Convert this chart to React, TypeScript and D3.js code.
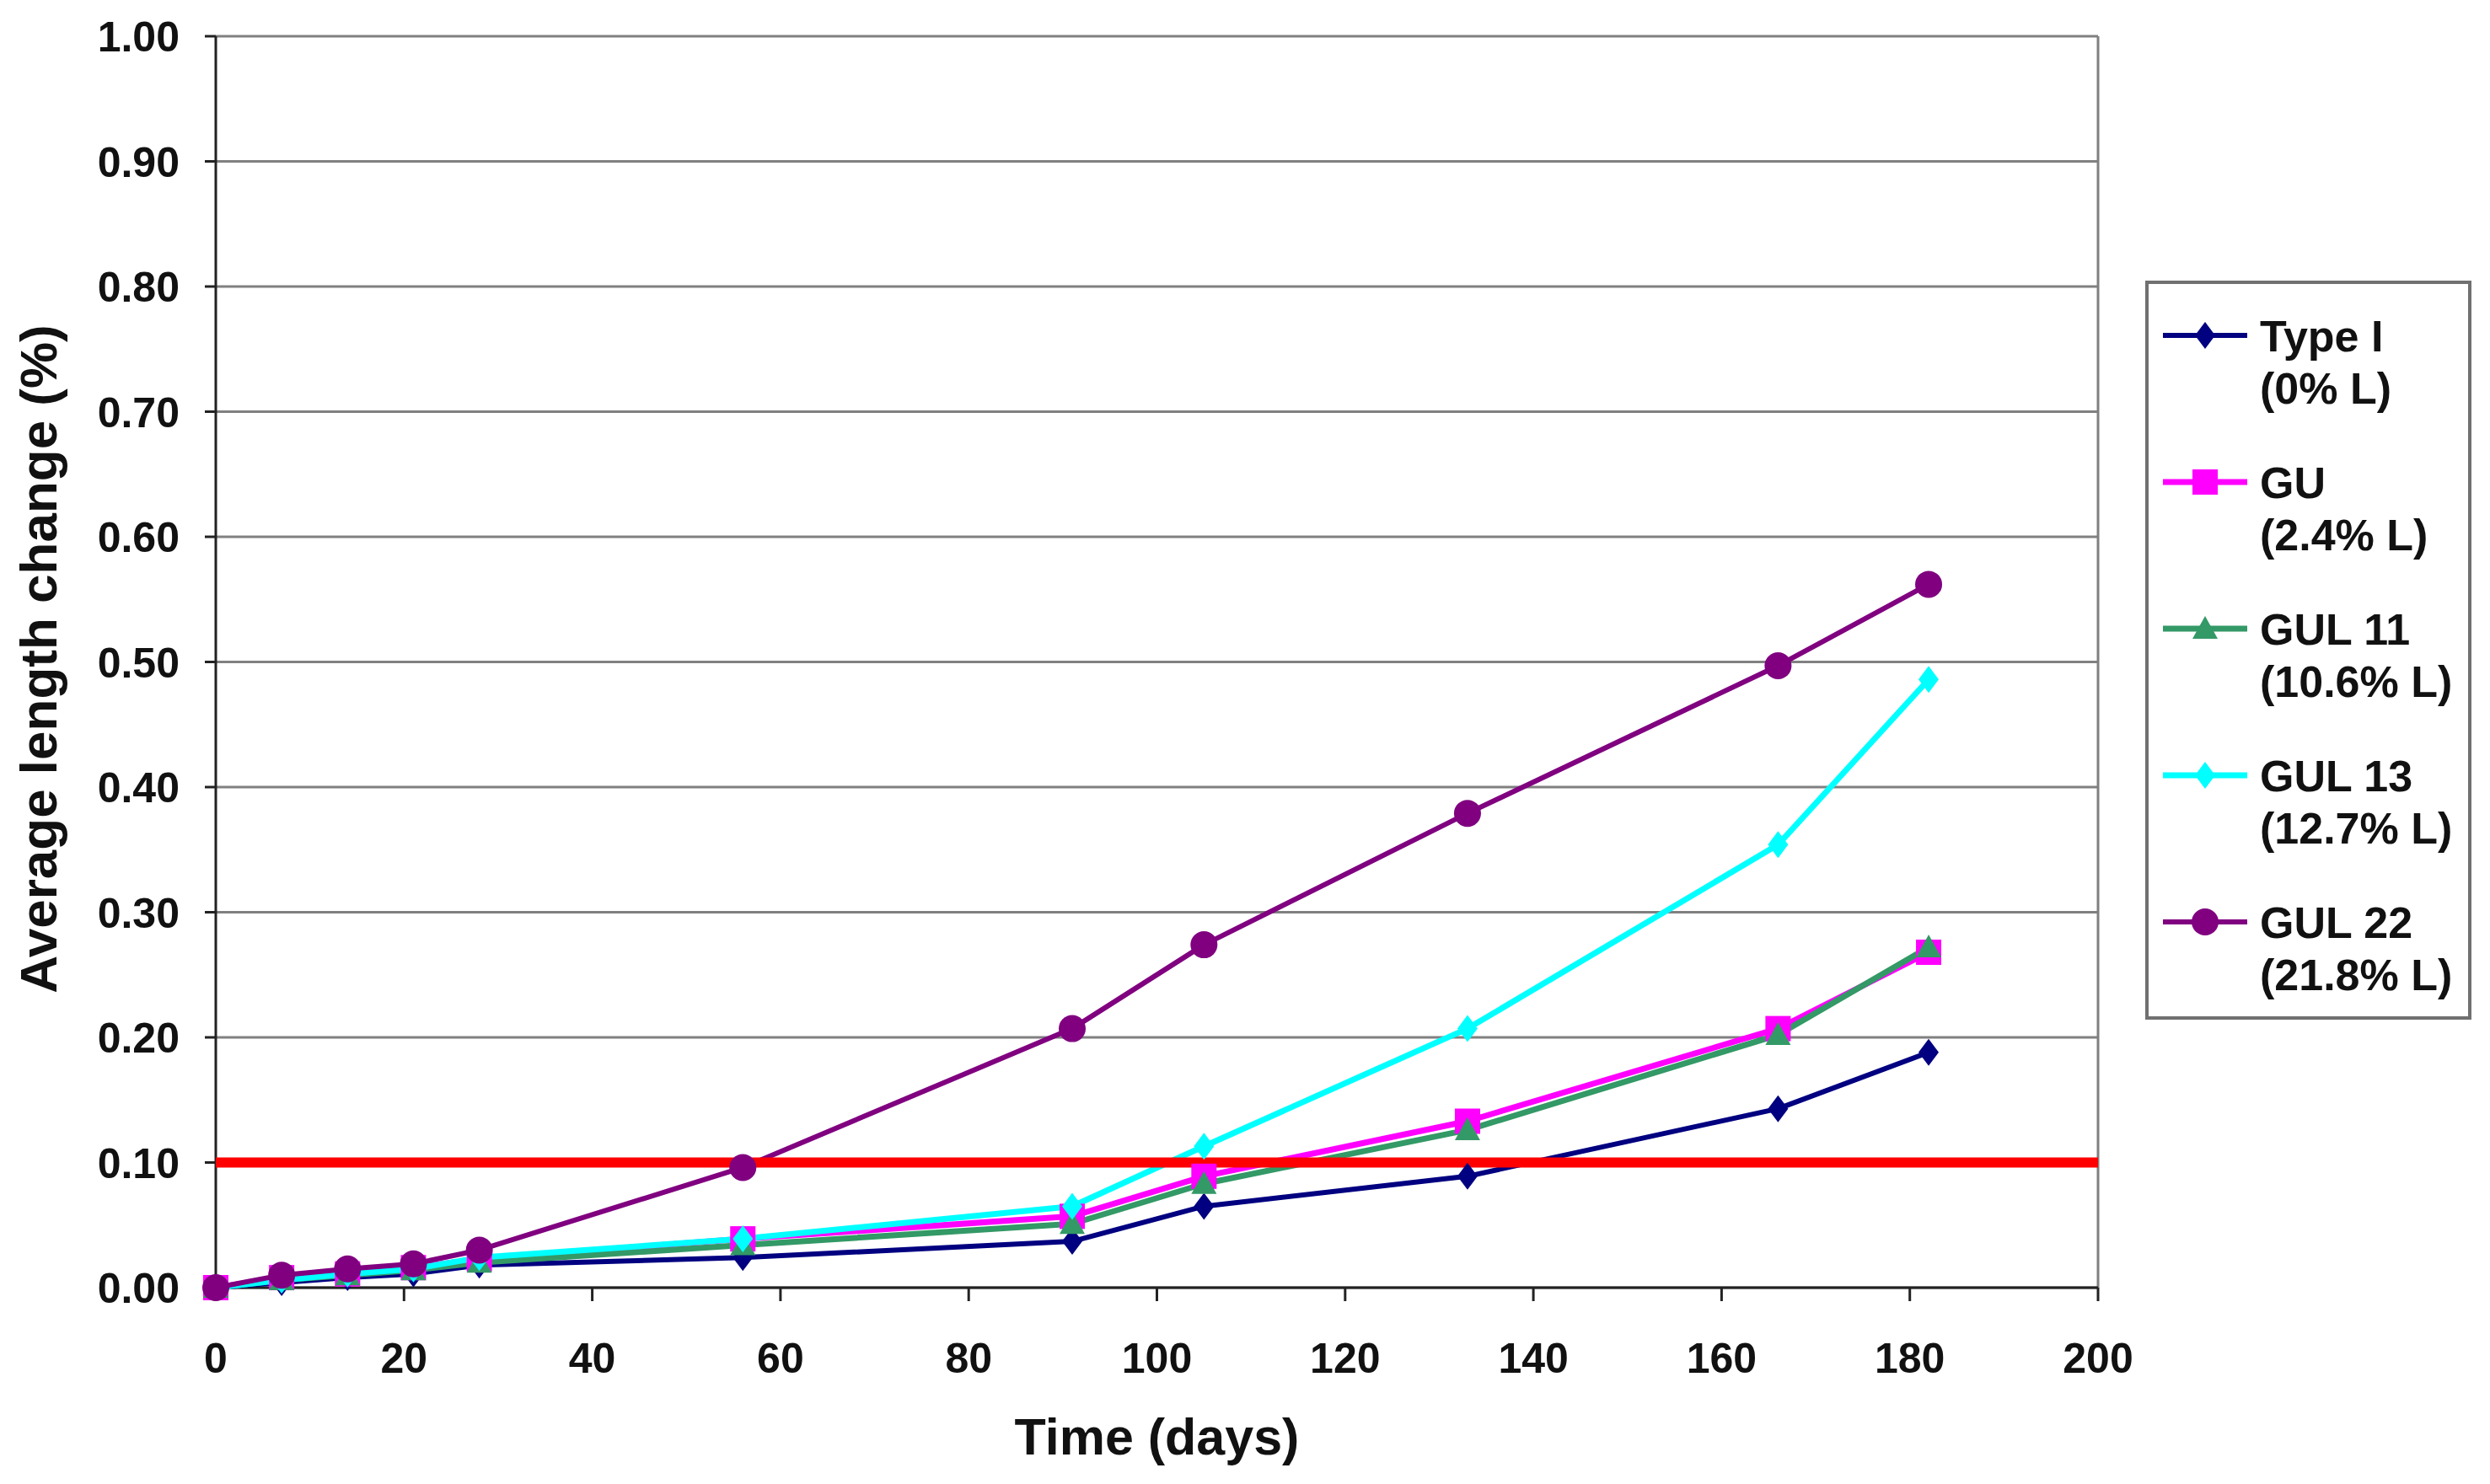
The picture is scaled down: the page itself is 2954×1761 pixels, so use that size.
import React from "react";
import * as d3 from "d3";

const days = [0, 7, 14, 21, 28, 56, 91, 105, 133, 166, 182];
const typeI = [0, 0.004, 0.008, 0.011, 0.018, 0.024, 0.037, 0.065, 0.089, 0.143, 0.188];
const gu = [0, 0.008, 0.011, 0.016, 0.023, 0.039, 0.057, 0.089, 0.133, 0.207, 0.268];
const gul11 = [0, 0.006, 0.010, 0.014, 0.020, 0.034, 0.051, 0.083, 0.126, 0.202, 0.272];
const gul13 = [0, 0.006, 0.011, 0.015, 0.024, 0.039, 0.065, 0.113, 0.207, 0.354, 0.486];
const gul22 = [0, 0.010, 0.015, 0.019, 0.030, 0.096, 0.207, 0.274, 0.379, 0.497, 0.562];
const limitValue = 0.1;
const xTicks = [0, 20, 40, 60, 80, 100, 120, 140, 160, 180, 200];
const yTicks = [0, 0.1, 0.2, 0.3, 0.4, 0.5, 0.6, 0.7, 0.8, 0.9, 1.0];
const seriesNames = ["Type I", "GU", "GUL 11", "GUL 13", "GUL 22"];
const seriesSubs = ["(0% L)", "(2.4% L)", "(10.6% L)", "(12.7% L)", "(21.8% L)"];

type Shape = "diamond" | "square" | "triangle" | "circle";
const series: { values: number[]; color: string; shape: Shape; width: number }[] = [
  { values: typeI, color: "#000080", shape: "diamond", width: 6 },
  { values: gu, color: "#FF00FF", shape: "square", width: 7 },
  { values: gul11, color: "#339966", shape: "triangle", width: 7 },
  { values: gul13, color: "#00FFFF", shape: "diamond", width: 7 },
  { values: gul22, color: "#800080", shape: "circle", width: 6 },
];

const W = 2954, H = 1761;
const L = 256, R = 2489, T = 43, B = 1528;
const FONT = "'Liberation Sans', Arial, Helvetica, sans-serif";

function markerPath(shape: Shape): string {
  switch (shape) {
    case "diamond": return "M0,-16L12,0L0,16L-12,0Z";
    case "square": return "M-15,-15H15V15H-15Z";
    case "triangle": return "M0,-15L15,12H-15Z";
    case "circle": return "M-16,0A16,16 0 1,0 16,0A16,16 0 1,0 -16,0Z";
  }
}

export default function App() {
  const x = d3.scaleLinear().domain([0, 200]).range([L, R]);
  const y = d3.scaleLinear().domain([0, 1]).range([B, T]);
  const line = d3.line<number>().x((_, i) => x(days[i])).y((v) => y(v));

  const legX = 2547, legY = 335, legW = 383, legH = 873;
  const entryY0 = 398, entryStep = 174;

  return (
    <svg width={W} height={H} style={{ position: "absolute", left: 0, top: 0, background: "#fff" }}
      fontFamily={FONT} fontWeight="bold">
      <rect x={0} y={0} width={W} height={H} fill="#fff" />
      {yTicks.map((t) => (
        <line key={"g" + t} x1={L} x2={R} y1={y(t)} y2={y(t)} stroke="#808080" strokeWidth={3} />
      ))}
      <line x1={R} x2={R} y1={T} y2={B} stroke="#808080" strokeWidth={3} />
      <line x1={L} x2={L} y1={T} y2={B} stroke="#222" strokeWidth={3} />
      <line x1={L} x2={R} y1={B} y2={B} stroke="#222" strokeWidth={3} />
      {yTicks.map((t) => (
        <g key={"yt" + t}>
          <line x1={L - 13} x2={L} y1={y(t)} y2={y(t)} stroke="#222" strokeWidth={3} />
          <text x={213} y={y(t)} dy="0.36em" textAnchor="end" fontSize={50} fill="#111">
            {d3.format(".2f")(t)}
          </text>
        </g>
      ))}
      {xTicks.map((t) => (
        <g key={"xt" + t}>
          <line x1={x(t)} x2={x(t)} y1={B} y2={B + 16} stroke="#222" strokeWidth={3} />
          <text x={x(t)} y={1629} textAnchor="middle" fontSize={50} fill="#111">{t}</text>
        </g>
      ))}
      <text x={(L + R) / 2} y={1726} textAnchor="middle" fontSize={61} fill="#111">Time (days)</text>
      <text transform={`translate(67,782) rotate(-90)`} textAnchor="middle" fontSize={62} fill="#111">
        Average length change (%)
      </text>
      {series.map((s, i) => (
        <path key={"l" + i} d={line(s.values) || ""} fill="none" stroke={s.color} strokeWidth={s.width}
          strokeLinejoin="round" />
      ))}
      <line x1={x(0)} x2={x(200)} y1={y(limitValue)} y2={y(limitValue)} stroke="#FF0000" strokeWidth={12} />
      {series.map((s, i) => (
        <g key={"m" + i}>
          {s.values.map((v, j) => (
            <path key={j} d={markerPath(s.shape)} transform={`translate(${x(days[j])},${y(v)})`} fill={s.color} />
          ))}
        </g>
      ))}
      <rect x={legX} y={legY} width={legW} height={legH} fill="#fff" stroke="#707070" strokeWidth={4} />
      {series.map((s, i) => {
        const cy = entryY0 + i * entryStep;
        return (
          <g key={"lg" + i}>
            <line x1={2566} x2={2666} y1={cy} y2={cy} stroke={s.color} strokeWidth={s.width} />
            <path d={markerPath(s.shape)} transform={`translate(2616,${cy})`} fill={s.color} />
            <text x={2681} y={cy + 19} fontSize={52} fill="#111">{seriesNames[i]}</text>
            <text x={2681} y={cy + 81} fontSize={52} fill="#111">{seriesSubs[i]}</text>
          </g>
        );
      })}
    </svg>
  );
}
